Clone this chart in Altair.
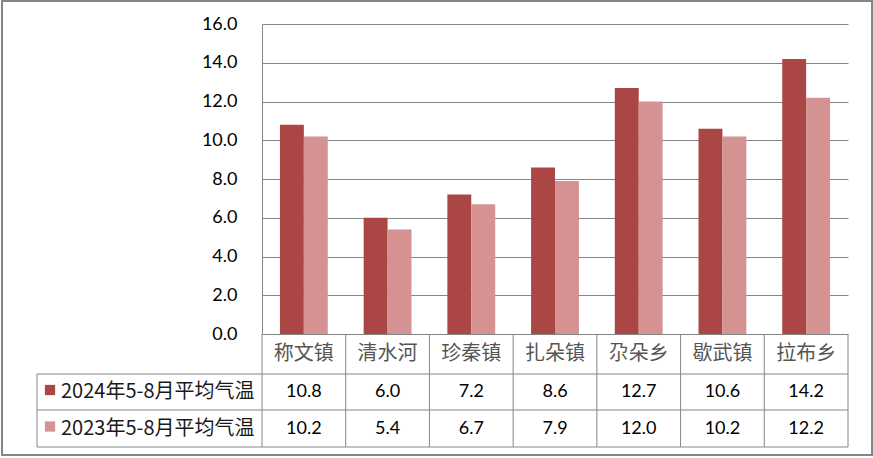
import altair as alt
import pandas as pd

categories = ["称文镇", "清水河", "珍秦镇", "扎朵镇", "尕朵乡", "歇武镇", "拉布乡"]
series = ["2024年5-8月平均气温", "2023年5-8月平均气温"]
values_2024 = [10.8, 6.0, 7.2, 8.6, 12.7, 10.6, 14.2]
values_2023 = [10.2, 5.4, 6.7, 7.9, 12.0, 10.2, 12.2]
colors = ["#AA4644", "#D49392"]
y_ticks = [0, 2, 4, 6, 8, 10, 12, 14, 16]

rows = []
for c, a, b in zip(categories, values_2024, values_2023):
    rows.append({"cat": c, "series": series[0], "value": a})
    rows.append({"cat": c, "series": series[1], "value": b})
df = pd.DataFrame(rows)
cat_df = pd.DataFrame({"cat": categories})
ser_df = pd.DataFrame({"series": series})
one = pd.DataFrame({"k": [0]})

W, H = 586, 310
GRID = "#868686"
NUM_FONT = "Lato"
CJK_FONT = "Noto Sans CJK SC"

xs = alt.Scale(domain=categories, paddingInner=0, paddingOuter=0)
cs = alt.Scale(domain=series, range=colors)

bars = alt.Chart(df).mark_bar().encode(
    x=alt.X("cat:N", scale=xs, sort=None, axis=None),
    xOffset=alt.XOffset("series:N", scale=alt.Scale(domain=series, paddingInner=0, paddingOuter=0.75), sort=None),
    y=alt.Y("value:Q", scale=alt.Scale(domain=[0, 16], nice=False),
            axis=alt.Axis(values=y_ticks, format=".1f", title=None, grid=True,
                          gridColor=GRID, gridWidth=1, domain=True, domainColor=GRID,
                          ticks=False, tickSize=0, labelPadding=25, labelFont=NUM_FONT,
                          labelFontSize=18, labelColor="#000000")),
    color=alt.Color("series:N", scale=cs, legend=None),
)

cat_text = alt.Chart(cat_df).mark_text(font=CJK_FONT, fontSize=20, color="#555555", baseline="middle").encode(
    x=alt.X("cat:N", scale=xs, sort=None, bandPosition=0.5, axis=None),
    y=alt.value(330),
    text="cat:N",
)

row_y = [368, 404.5]
val_layers = []
for i, s in enumerate(series):
    val_layers.append(
        alt.Chart(df).transform_filter(alt.datum.series == s).mark_text(
            font=NUM_FONT, fontSize=18, color="#000000", baseline="middle"
        ).encode(
            x=alt.X("cat:N", scale=xs, sort=None, bandPosition=0.5, axis=None),
            y=alt.value(row_y[i]),
            text=alt.Text("value:Q", format=".1f"),
        )
    )
    val_layers.append(
        alt.Chart(ser_df).transform_filter(alt.datum.series == s).mark_square(size=105, opacity=1, filled=True).encode(
            x=alt.value(-212),
            y=alt.value(row_y[i] - 2),
            color=alt.Color("series:N", scale=cs, legend=None),
        )
    )
    val_layers.append(
        alt.Chart(ser_df).transform_filter(alt.datum.series == s).mark_text(
            font=CJK_FONT, fontSize=20, color="#1a1a1a", baseline="middle", align="left"
        ).encode(
            x=alt.value(-201),
            y=alt.value(row_y[i]),
            text="series:N",
        )
    )

vlines = alt.Chart(cat_df).mark_rule(color=GRID, strokeWidth=1).encode(
    x=alt.X("cat:N", scale=xs, sort=None, bandPosition=0, axis=None),
    y=alt.value(H), y2=alt.value(423),
)
rline = alt.Chart(one).mark_rule(color=GRID, strokeWidth=1).encode(
    x=alt.value(W), y=alt.value(H), y2=alt.value(423))
lline = alt.Chart(one).mark_rule(color=GRID, strokeWidth=1).encode(
    x=alt.value(-225), y=alt.value(350), y2=alt.value(423))
hlines = [
    alt.Chart(one).mark_rule(color=GRID, strokeWidth=1).encode(
        x=alt.value(-225), x2=alt.value(W), y=alt.value(yy))
    for yy in (350, 386, 423)
]
border = alt.Chart(one).mark_rect(filled=False, stroke=GRID, strokeWidth=2).encode(
    x=alt.value(-260), x2=alt.value(610), y=alt.value(-23), y2=alt.value(431))

chart = alt.layer(
    bars, vlines, rline, lline, *hlines, cat_text, *val_layers, border
).properties(
    width=W, height=H,
    autosize=alt.AutoSizeParams(type="none"),
    padding={"left": 262, "top": 24, "right": 25, "bottom": 124},
    background="white",
).configure_view(strokeWidth=0)

chart.save("out.html", embed_options={"renderer": "svg", "actions": False})
